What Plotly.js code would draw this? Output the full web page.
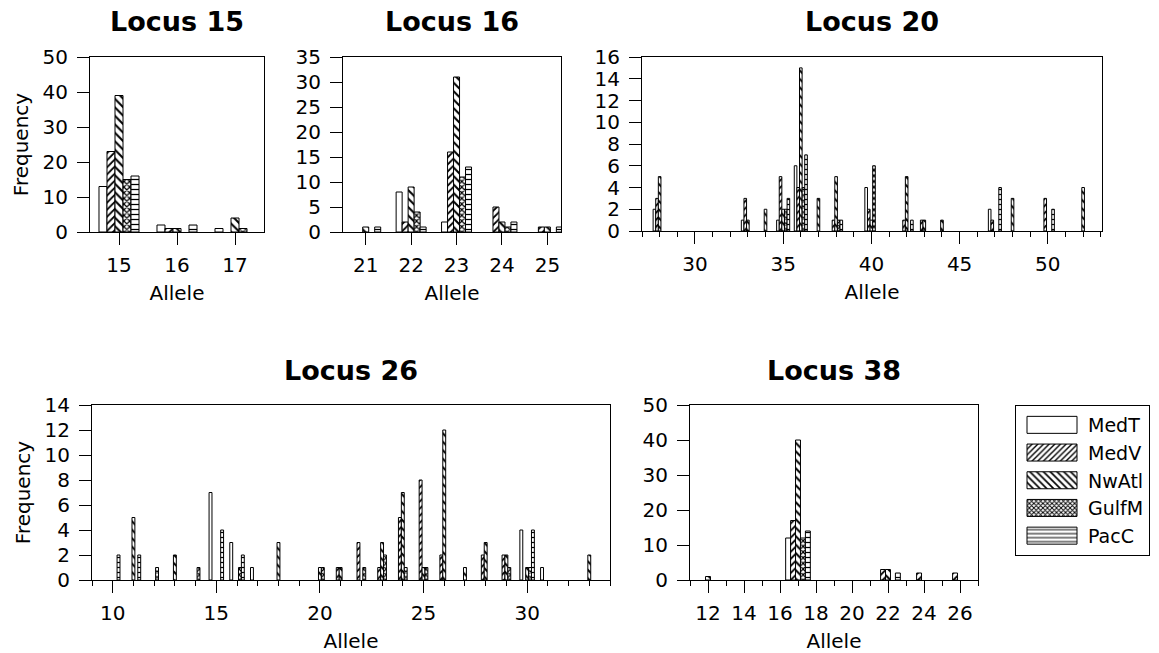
<!DOCTYPE html>
<html>
<head>
<meta charset="utf-8">
<script src="https://cdn.plot.ly/plotly-3.0.1.min.js"></script>
<style>
html,body{margin:0;padding:0;background:#fff;}
#chart{width:1159px;height:653px;}
</style>
</head>
<body>
<div id="chart"></div>
<script>
// ---------- DATA ----------
const seriesNames = ['MedT', 'MedV', 'NwAtl', 'GulfM', 'PacC'];

// Locus 15
const locus15Alleles = [15, 16, 17];
const locus15MedT  = [13, 2, 1];
const locus15MedV  = [23, 1, 0];
const locus15NwAtl = [39, 1, 4];
const locus15GulfM = [15, 0, 1];
const locus15PacC  = [16, 2, 0];

// Locus 16
const locus16Alleles = [21, 22, 23, 24, 25];
const locus16MedT  = [0, 8, 2, 0, 0];
const locus16MedV  = [0, 2, 16, 5, 1];
const locus16NwAtl = [1, 9, 31, 2, 1];
const locus16GulfM = [0, 4, 11, 1, 0];
const locus16PacC  = [1, 1, 13, 2, 1];

// Locus 20
const locus20Alleles = [28, 33, 34, 35, 36, 37, 38, 40, 42, 43, 44, 47, 48, 50, 52];
const locus20MedT  = [2, 1, 0, 1, 6, 0, 0, 4, 0, 0, 0, 2, 0, 0, 0];
const locus20MedV  = [3, 3, 0, 5, 4, 0, 1, 2, 1, 1, 0, 1, 0, 3, 0];
const locus20NwAtl = [5, 1, 2, 2, 15, 3, 5, 1, 5, 1, 1, 0, 3, 0, 4];
const locus20GulfM = [0, 0, 0, 2, 4, 0, 1, 6, 0, 0, 0, 0, 0, 0, 0];
const locus20PacC  = [0, 0, 0, 3, 7, 0, 1, 0, 1, 0, 0, 4, 0, 2, 0];

// Locus 26
const locus26Alleles = [10, 11, 12, 13, 14, 15, 16, 17, 18, 20, 21, 22, 23, 24, 25, 26, 27, 28, 29, 30, 31, 33];
const locus26MedT  = [0, 0, 0, 0, 0, 7, 3, 1, 0, 0, 0, 0, 0, 0, 0, 0, 0, 0, 0, 4, 1, 0];
const locus26MedV  = [0, 0, 0, 0, 0, 0, 0, 0, 0, 0, 1, 3, 1, 5, 8, 2, 0, 2, 2, 0, 0, 0];
const locus26NwAtl = [0, 5, 0, 2, 0, 0, 0, 0, 3, 1, 1, 0, 3, 7, 1, 12, 1, 3, 2, 1, 0, 2];
const locus26GulfM = [0, 0, 1, 0, 1, 0, 1, 0, 0, 1, 0, 1, 2, 1, 1, 0, 0, 0, 1, 1, 0, 0];
const locus26PacC  = [2, 2, 0, 0, 0, 4, 2, 0, 0, 0, 0, 0, 0, 0, 0, 0, 0, 0, 0, 4, 0, 0];

// Locus 38
const locus38Alleles = [12, 17, 22, 24, 26];
const locus38MedT  = [0, 12, 0, 0, 0];
const locus38MedV  = [0, 17, 3, 2, 2];
const locus38NwAtl = [1, 40, 3, 0, 0];
const locus38GulfM = [0, 12, 0, 0, 0];
const locus38PacC  = [0, 14, 2, 0, 0];

// ---------- TABLE BUILT FROM DATA ----------
const loci = [
  {title: 'Locus 15', alleles: locus15Alleles, values: [locus15MedT, locus15MedV, locus15NwAtl, locus15GulfM, locus15PacC]},
  {title: 'Locus 16', alleles: locus16Alleles, values: [locus16MedT, locus16MedV, locus16NwAtl, locus16GulfM, locus16PacC]},
  {title: 'Locus 20', alleles: locus20Alleles, values: [locus20MedT, locus20MedV, locus20NwAtl, locus20GulfM, locus20PacC]},
  {title: 'Locus 26', alleles: locus26Alleles, values: [locus26MedT, locus26MedV, locus26NwAtl, locus26GulfM, locus26PacC]},
  {title: 'Locus 38', alleles: locus38Alleles, values: [locus38MedT, locus38MedV, locus38NwAtl, locus38GulfM, locus38PacC]}
];

// ---------- STYLE / LAYOUT ----------
const W = 1159, H = 653;
const FONT = 'DejaVu Sans, Arial, sans-serif';
// pixel boxes [left, right, top, bottom], axis ranges, ticks, bar width
const panelStyle = [
  {box: [90, 264, 57, 232], xr: [14.5, 17.5], yr: [0, 50], ydt: 10, xdt: 1, minor: false, bw: 0.138, freq: true},
  {box: [343, 561, 57, 232], xr: [20.5, 25.3], yr: [0, 35], ydt: 5, xdt: 1, minor: false, bw: 0.132, freq: false},
  {box: [642, 1102, 57, 231], xr: [27, 53.07], yr: [0, 16], ydt: 2, xdt: 5, minor: true, bw: 0.148, freq: false},
  {box: [92, 610, 405, 580], xr: [9, 34], yr: [0, 14], ydt: 2, xdt: 5, minor: true, bw: 0.14, freq: true},
  {box: [690, 978, 405, 580], xr: [11, 27], yr: [0, 50], ydt: 10, xdt: 2, minor: true, bw: 0.274, freq: false}
];

const seriesStyle = [
  {color: 'white', pattern: {shape: ''}},
  {color: 'white', pattern: {shape: '/', fgcolor: 'black', bgcolor: 'white', size: 5, solidity: 0.35}},
  {color: 'white', pattern: {shape: '\\', fgcolor: 'black', bgcolor: 'white', size: 6, solidity: 0.35}},
  {color: 'white', pattern: {shape: 'x', fgcolor: 'black', bgcolor: 'white', size: 4, solidity: 0.5}},
  {color: 'white', pattern: {shape: '-', fgcolor: 'black', bgcolor: 'white', size: 5, solidity: 0.25}}
];

const traces = [];
const layout = {
  width: W, height: H,
  margin: {l: 0, r: 0, t: 0, b: 0},
  paper_bgcolor: 'white', plot_bgcolor: 'white',
  font: {family: FONT, color: 'black', size: 18},
  barmode: 'overlay',
  showlegend: true,
  legend: {
    x: 1015 / W, y: 1 - 405 / H, xanchor: 'left', yanchor: 'top',
    bordercolor: 'black', borderwidth: 1, bgcolor: 'white',
    font: {family: FONT, size: 19, color: 'black'},
    itemwidth: 62, tracegroupgap: 5, traceorder: 'normal'
  },
  annotations: []
};

loci.forEach((loc, p) => {
  const st = panelStyle[p];
  const sfx = p === 0 ? '' : String(p + 1);
  const xa = 'x' + sfx, ya = 'y' + sfx;
  loc.values.forEach((vals, s) => {
    traces.push({
      type: 'bar',
      name: seriesNames[s],
      legendgroup: seriesNames[s],
      showlegend: p === 0,
      x: loc.alleles,
      y: vals.map(v => (v === 0 ? null : v)),
      xaxis: xa, yaxis: ya,
      width: st.bw,
      offset: (s - 2.5) * st.bw,
      marker: {color: seriesStyle[s].color, line: {color: 'black', width: 1}, pattern: seriesStyle[s].pattern},
      hoverinfo: 'x+y+name'
    });
  });
  const [l, r, t, b] = st.box;
  const common = {
    showline: true, linecolor: 'black', linewidth: 1, mirror: true,
    ticks: 'outside', ticklen: 12, tickwidth: 1, tickcolor: 'black',
    showgrid: false, zeroline: false,
    tickfont: {family: FONT, size: 20, color: 'black'}
  };
  const xaxis = Object.assign({}, common, {
    domain: [l / W, r / W], range: st.xr, anchor: ya,
    tick0: 0, dtick: st.xdt, ticklabelstandoff: 3,
    title: {text: 'Allele', font: {family: FONT, size: 20}, standoff: 9}
  });
  if (st.minor) {
    xaxis.minor = {dtick: 1, tick0: 0, ticks: 'outside', ticklen: 5, tickwidth: 1, tickcolor: 'black', showgrid: false};
  }
  const yaxis = Object.assign({}, common, {
    domain: [1 - b / H, 1 - t / H], range: st.yr, anchor: xa,
    tick0: 0, dtick: st.ydt, ticklabelstandoff: 5
  });
  if (st.freq) {
    yaxis.title = {text: 'Frequency', font: {family: FONT, size: 20}, standoff: 8};
  }
  layout['xaxis' + sfx] = xaxis;
  layout['yaxis' + sfx] = yaxis;
  layout.annotations.push({
    text: '<b>' + loc.title + '</b>', xref: 'paper', yref: 'paper',
    x: (l + r) / 2 / W, y: 1 - (t - 35) / H, xanchor: 'center', yanchor: 'middle',
    showarrow: false, font: {family: FONT, size: 27, color: 'black'}
  });
});

Plotly.newPlot('chart', traces, layout, {staticPlot: true, displayModeBar: false}).then(() => {
  // widen the legend swatches to look like the reference key boxes
  document.querySelectorAll('#chart .legend .legendpoints path').forEach(pth => {
    pth.setAttribute('d', 'M25,8.5H-25V-8.5H25Z');
  });
});
</script>
</body>
</html>
